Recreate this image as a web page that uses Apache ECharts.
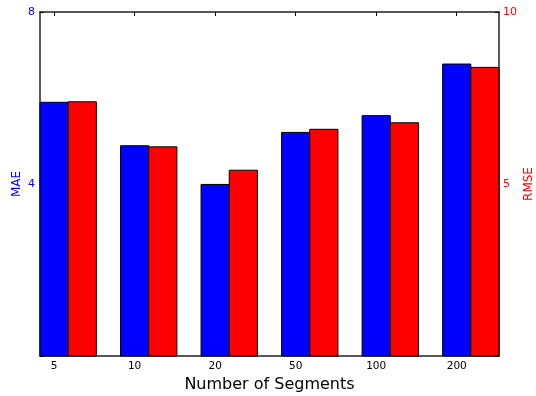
<!DOCTYPE html>
<html>
<head>
<meta charset="utf-8">
<script src="https://cdn.jsdelivr.net/npm/echarts@6/dist/echarts.min.js"></script>
<style>
html,body{margin:0;padding:0;background:#fff;}
#main{width:536px;height:396px;}
</style>
</head>
<body>
<div id="main"></div>
<script>
const categories = ['5', '10', '20', '50', '100', '200'];
const maeValues = [5.90, 4.89, 3.99, 5.20, 5.59, 6.79];
const rmseValues = [7.39, 6.08, 5.40, 6.59, 6.78, 8.39];
const maeTicks = [0, 4, 8];
const rmseTicks = [0, 5, 10];

const BAR = 0.35;
const FONT = 'DejaVu Sans';

function makeRender(offset, fill) {
  return function (params, api) {
    const i = api.value(0), v = api.value(1);
    const p0 = api.coord([i - BAR / 2 + offset, v]);
    const p1 = api.coord([i + BAR / 2 + offset, 0]);
    return {
      type: 'rect',
      shape: { x: p0[0], y: p0[1], width: p1[0] - p0[0], height: p1[1] - p0[1] },
      style: { fill: fill, stroke: '#000', lineWidth: 1 }
    };
  };
}

const idx = categories.map((c, i) => i);
const chart = echarts.init(document.getElementById('main'), null, { renderer: 'canvas' });
chart.setOption({
  animation: false,
  backgroundColor: '#fff',
  grid: { left: 40, right: 37, top: 12, bottom: 40, show: false, containLabel: false, outerBoundsMode: 'none' },
  xAxis: [{
    type: 'value', min: -BAR / 2, max: categories.length - 1 + BAR * 1.5,
    name: 'Number of Segments', nameLocation: 'middle', nameGap: 21,
    nameTextStyle: { fontFamily: FONT, fontSize: 16, color: '#000' },
    axisLine: { show: true, onZero: false, lineStyle: { color: '#222', width: 1.5 } },
    axisTick: { show: true, inside: true, length: 4, customValues: idx, lineStyle: { color: '#000' } },
    axisLabel: { customValues: idx, fontFamily: FONT, fontSize: 10.5, color: '#000', margin: 5,
      formatter: v => categories[Math.round(v)] },
    splitLine: { show: false }
  }, {
    type: 'value', position: 'top', min: -BAR / 2, max: categories.length - 1 + BAR * 1.5,
    axisLine: { show: true, onZero: false, lineStyle: { color: '#222', width: 1.5 } },
    axisTick: { show: true, inside: true, length: 4, customValues: idx, lineStyle: { color: '#000' } },
    axisLabel: { show: false },
    splitLine: { show: false }
  }],
  yAxis: [{
    type: 'value', min: 0, max: 8, interval: 4, position: 'left',
    name: 'MAE', nameLocation: 'middle', nameGap: 17, nameRotate: 90, nameMoveOverlap: false,
    nameTextStyle: { fontFamily: FONT, fontSize: 12, color: '#0000ff' },
    axisLine: { show: true, onZero: false, lineStyle: { color: '#222', width: 1.5 } },
    axisTick: { show: true, inside: true, length: 4, lineStyle: { color: '#000' } },
    axisLabel: { fontFamily: FONT, fontSize: 11, color: '#0000ff', margin: 5,
      formatter: v => v === 0 ? '' : String(v) },
    splitLine: { show: false }
  }, {
    type: 'value', min: 0, max: 10, interval: 5, position: 'right',
    name: 'RMSE', nameLocation: 'middle', nameGap: 24, nameRotate: 90, nameMoveOverlap: false,
    nameTextStyle: { fontFamily: FONT, fontSize: 12, color: '#ff0000' },
    axisLine: { show: true, onZero: false, lineStyle: { color: '#222', width: 1.5 } },
    axisTick: { show: true, inside: true, length: 4, lineStyle: { color: '#000' } },
    axisLabel: { fontFamily: FONT, fontSize: 11, color: '#ff0000', margin: 4,
      formatter: v => v === 0 ? '' : String(v) },
    splitLine: { show: false }
  }],
  series: [{
    type: 'custom', name: 'MAE', xAxisIndex: 0, yAxisIndex: 0,
    renderItem: makeRender(0, '#0000ff'),
    encode: { x: 0, y: 1 },
    data: maeValues.map((v, i) => [i, v]),
    z: 1
  }, {
    type: 'custom', name: 'RMSE', xAxisIndex: 0, yAxisIndex: 1,
    renderItem: makeRender(BAR, '#ff0000'),
    encode: { x: 0, y: 1 },
    data: rmseValues.map((v, i) => [i, v]),
    z: 1
  }]
});
</script>
</body>
</html>
